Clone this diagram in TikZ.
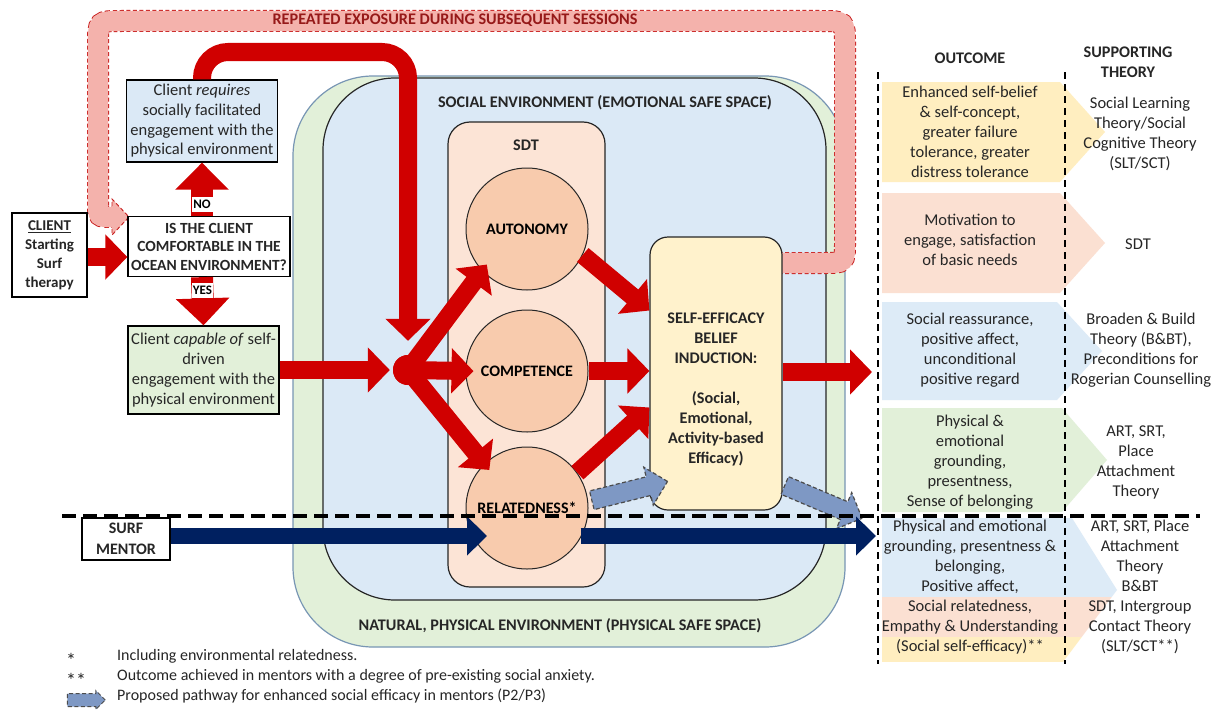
\documentclass[tikz,border=0pt]{standalone}
\usepackage{fontspec}
\setmainfont{Carlito}
\usetikzlibrary{arrows.meta,shapes.arrows,calc}

\definecolor{flowred}{RGB}{208,0,0}
\definecolor{bandpink}{RGB}{244,178,172}
\definecolor{banddash}{RGB}{200,30,30}
\definecolor{bandtext}{RGB}{150,25,25}
\definecolor{mentorblue}{RGB}{0,32,96}
\definecolor{pathsteel}{RGB}{126,152,196}
\definecolor{socialblue}{RGB}{219,233,246}
\definecolor{naturegreen}{RGB}{226,240,217}
\definecolor{natureedge}{RGB}{120,150,180}
\definecolor{sdtpeach}{RGB}{252,228,214}
\definecolor{needorange}{RGB}{248,203,173}
\definecolor{beliefyellow}{RGB}{255,242,204}
\definecolor{outyellow}{RGB}{255,238,192}
\definecolor{outpink}{RGB}{251,224,210}
\definecolor{outblue}{RGB}{221,235,247}
\definecolor{outgreen}{RGB}{226,240,217}
\definecolor{inkgray}{RGB}{38,38,38}

\begin{document}
\begin{tikzpicture}[x=1pt, y=-1pt,
  body/.style={align=center, inner sep=0pt, text=inkgray, font=\fontsize{16.5}{20}\selectfont},
  heading/.style={align=center, inner sep=0pt, text=inkgray, font=\fontsize{16.2}{20}\selectfont\bfseries},
  legend/.style={anchor=west, inner sep=0pt, text=inkgray, font=\fontsize{16}{19}\selectfont},
  flowbox/.style={draw=black, line width=1.3pt, align=center, inner sep=0pt, text=inkgray},
  need/.style={circle, draw=inkgray, line width=1pt, fill=needorange, minimum size=122pt, inner sep=0pt, font=\fontsize{16}{20}\selectfont\bfseries},
  redarrow/.style={draw=flowred, line width=18pt, -{Triangle[length=22pt,width=44pt]}},
  choice/.style={draw=flowred, line width=22pt, -{Triangle[length=27pt,width=52pt]}},
  choicetag/.style={fill=white, inner sep=0pt, minimum width=21pt, minimum height=15pt, font=\fontsize{13}{13}\selectfont\bfseries},
  mentorarrow/.style={draw=mentorblue, line width=16pt, -{Triangle[length=20pt,width=38pt]}},
  pathway/.style={single arrow, draw=black!70, line width=1.2pt, dash pattern=on 4pt off 2.5pt, fill=pathsteel, inner xsep=0pt, inner ysep=9pt, single arrow head extend=10pt, single arrow tip angle=90},
  colline/.style={line width=2.5pt, dash pattern=on 7pt off 5pt},
]
% Canvas
\useasboundingbox (0,0) rectangle (1222,709);
\fill[white] (0,0) rectangle (1222,709);

% Environments
\node[draw=natureedge, line width=1.2pt, fill=naturegreen, rounded corners=80pt, minimum width=552pt, minimum height=571pt] (natural) at (569,361.5) {};
\node[draw=inkgray, line width=1.2pt, fill=socialblue, rounded corners=72pt, minimum width=503pt, minimum height=522pt] (social) at (574.5,339) {};
\node[heading] (sociallab) at (605,103) {SOCIAL ENVIRONMENT (EMOTIONAL SAFE SPACE)};
\node[heading] (naturallab) at (560,626) {NATURAL, PHYSICAL ENVIRONMENT (PHYSICAL SAFE SPACE)};

% SDT column
\node[draw=inkgray, line width=1.2pt, fill=sdtpeach, rounded corners=22pt, minimum width=157pt, minimum height=465pt] (sdt) at (526.5,354.5) {};
\node[heading] (sdtlab) at (526,145) {SDT};

% Repeated exposure loop
\coordinate (bandstart) at (772,263);
\coordinate (bandend) at (112,217);
\draw[banddash, line width=22pt, dash pattern=on 4pt off 2.5pt, postaction={draw=bandpink, line width=20.2pt, solid}]
  (bandstart) -- (823,263) .. controls (845,263) .. (845,241) -- (845,45) .. controls (845,21) .. (821,21)
  -- (122,21) .. controls (98,21) .. (98,45) -- (98,202) .. controls (98,217) .. (bandend);
\fill[bandpink] (112,199) -- (129,217) -- (112,235) -- cycle;
\draw[banddash, line width=0.9pt, dash pattern=on 4pt off 2.5pt] (112,206) -- (112,199) -- (129,217) -- (112,235) -- (112,228);
\node[inner sep=0pt, text=bandtext, font=\fontsize{16.2}{20}\selectfont\bfseries] (bandlab) at (455,20) {REPEATED EXPOSURE DURING SUBSEQUENT SESSIONS};

% Self-efficacy box
\node[draw=inkgray, line width=1.2pt, fill=beliefyellow, rounded corners=18pt, minimum width=132pt, minimum height=273pt] (belief) at (716,373.5) {};
\node[heading] (belieftext) at (716,389) {SELF-EFFICACY\\BELIEF\\INDUCTION:\\[20pt](Social,\\Emotional,\\Activity-based\\Efficacy)};

% Needs
\node[need] (autonomy) at (527,229) {AUTONOMY};
\node[need] (competence) at (527,371) {COMPETENCE};
\node[need] (relatedness) at (527,508) {RELATEDNESS*};

% Left flow
\node[flowbox, minimum width=75pt, minimum height=84pt, font=\fontsize{15}{19}\selectfont\bfseries] (client) at (49.5,255) {\underline{CLIENT}\\Starting\\Surf\\therapy};
\node[flowbox, minimum width=162pt, minimum height=60pt, font=\fontsize{15.5}{18.5}\selectfont\bfseries] (question) at (209,246.5) {IS THE CLIENT\\COMFORTABLE IN THE\\OCEAN ENVIRONMENT?};
\node[flowbox, fill=socialblue, minimum width=151pt, minimum height=82pt, font=\fontsize{16.5}{19.7}\selectfont] (needsocial) at (202,121) {Client \textit{requires}\\socially facilitated\\engagement with the\\physical environment};
\node[flowbox, fill=naturegreen, minimum width=151pt, minimum height=88pt, font=\fontsize{16.5}{20}\selectfont] (selfdriven) at (203.5,370) {Client \textit{capable of} self-\\driven\\engagement with the\\physical environment};
\node[flowbox, minimum width=88pt, minimum height=42pt, font=\fontsize{16}{21}\selectfont\bfseries] (mentor) at (126,539) {SURF\\MENTOR};

% Red arrows
\coordinate (looptop) at (408,52);
\node[circle, fill=flowred, minimum size=30pt, inner sep=0pt] (hub) at (408,370) {};
\draw[redarrow] (client.east |- 0,257) -- (question.west |- 0,257);
\draw[choice] (needsocial.south |- question.north) -- (needsocial.south) node[choicetag, pos=0.22] (no) {NO};
\draw[choice] (needsocial.south |- question.south) -- (selfdriven.north) node[choicetag, pos=0.28] (yes) {YES};
\draw[redarrow, rounded corners=26pt, shorten >=14pt] (needsocial.north) |- (looptop) -- (hub.north);
\draw[redarrow, shorten >=3pt] (selfdriven.east) -- (hub.west);
\draw[redarrow, shorten >=-8pt] (hub.center) -- (autonomy.223);
\draw[redarrow, shorten >=-8pt] (hub.center) -- (competence.west);
\draw[redarrow, shorten >=-8pt] (hub.center) -- (relatedness.134);
\node[circle, fill=flowred, minimum size=30pt, inner sep=0pt] at (hub) {};
\draw[redarrow] (autonomy.-25) -- ($(belief.west)+(0,-63)$);
\draw[redarrow] (competence.east) -- (belief.west |- competence.east);
\draw[redarrow] (relatedness.35) -- ($(belief.west)+(0,34)$);
\coordinate (outcomein) at (872,372);
\draw[redarrow] (belief.east |- outcomein) -- (outcomein);

% Proposed pathway
\node[pathway, minimum height=78pt, rotate=14] (path1) at (625,492) {};
\node[pathway, minimum height=84pt, rotate=-23] (path2) at (819,500) {};

% Mentor arrows
\coordinate (mentorin) at (487,536);
\coordinate (mentorout) at (876,536);
\draw[mentorarrow] (mentor.east |- mentorin) -- (mentorin);
\draw[mentorarrow, shorten <=-8pt] (relatedness.east |- mentorout) -- (mentorout);

% Outcomes
\fill[outyellow] (882,82) -- (1060,82) -- (1105,132) -- (1060,182) -- (882,182) -- cycle;
\fill[outpink] (882,193) -- (1060,193) -- (1105,243) -- (1060,293) -- (882,293) -- cycle;
\fill[outblue] (882,302) -- (1057,302) -- (1102,351) -- (1057,400) -- (882,400) -- cycle;
\fill[outgreen] (882,408) -- (1062,408) -- (1107,460) -- (1062,512) -- (882,512) -- cycle;
\begin{scope}
\clip (882,518) -- (1072,518) -- (1117,590) -- (1063,662) -- (882,662) -- cycle;
\fill[outblue] (882,518) rectangle (1120,597);
\fill[outpink] (882,597) rectangle (1120,637);
\fill[outyellow] (882,637) rectangle (1120,662);
\end{scope}
\node[heading] (outhead) at (970,58) {OUTCOME};
\node[heading] (theoryhead) at (1128,62) {SUPPORTING\\THEORY};
\node[body] (out1) at (970,132) {Enhanced self-belief\\\& self-concept,\\greater failure\\tolerance, greater\\distress tolerance};
\node[body] (out2) at (970,240) {Motivation to\\engage, satisfaction\\of basic needs};
\node[body] (out3) at (970,350) {Social reassurance,\\positive affect,\\unconditional\\positive regard};
\node[body] (out4) at (970,462) {Physical \&\\emotional\\grounding,\\presentness,\\Sense of belonging};
\node[body] (out5) at (970,587) {Physical and emotional\\grounding, presentness \&\\belonging,\\Positive affect,\\Social relatedness,\\Empathy \& Understanding\\(Social self-efficacy)**};
\node[body] (theory1) at (1140,134) {Social Learning\\Theory/Social\\Cognitive Theory\\(SLT/SCT)};
\node[body] (theory2) at (1138,244) {SDT};
\node[body] (theory3) at (1141,350) {Broaden \& Build\\Theory (B\&BT),\\Preconditions for\\Rogerian Counselling};
\node[body] (theory4) at (1136,462) {ART, SRT,\\Place\\Attachment\\Theory};
\node[body] (theory5) at (1140,587) {ART, SRT, Place\\Attachment\\Theory\\B\&BT\\SDT, Intergroup\\Contact Theory\\(SLT/SCT**)};

% Separators
\draw[colline] (878,72) -- (878,664);
\draw[colline] (1065,72) -- (1065,664);
\draw[line width=3.2pt, dash pattern=on 14pt off 7pt] (62,516) -- (1200,516);

% Legend
\node[legend, font=\fontsize{20}{20}\selectfont] (star1) at (66,660) {*};
\node[legend] (note1) at (117,656) {Including environmental relatedness.};
\node[legend, font=\fontsize{20}{20}\selectfont] (star2) at (66,680) {**};
\node[legend] (note2) at (117,676) {Outcome achieved in mentors with a degree of pre-existing social anxiety.};
\node[pathway, minimum height=38pt, inner ysep=6pt, single arrow head extend=3pt, line width=1pt] (pathkey) at (83,700) {};
\node[legend] (note3) at (117,696) {Proposed pathway for enhanced social efficacy in mentors (P2/P3)};
\end{tikzpicture}
\end{document}
